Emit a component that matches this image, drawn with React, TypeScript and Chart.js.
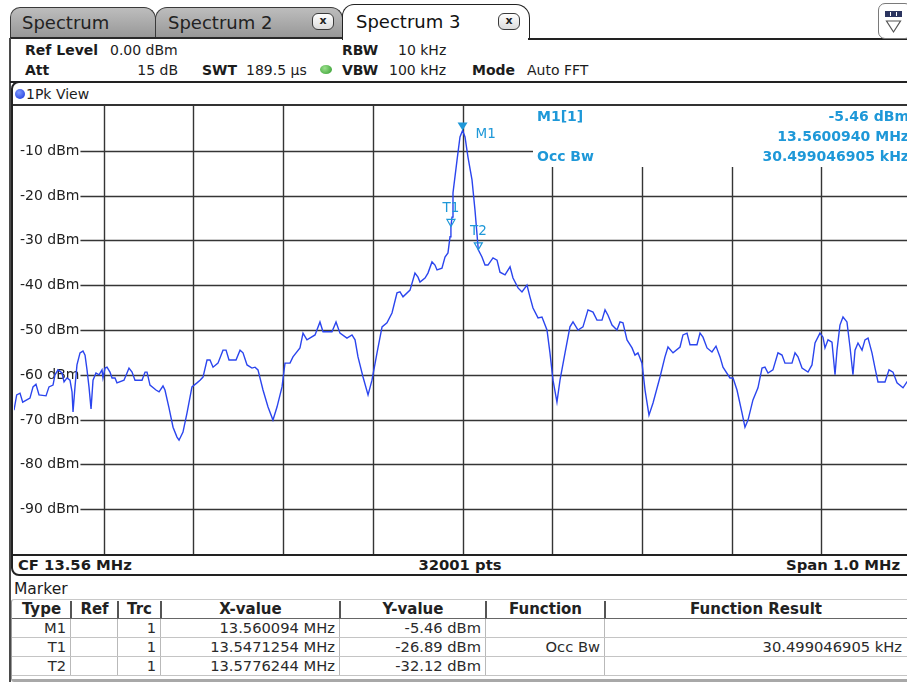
import React, { useEffect, useRef } from "react";
import { Chart, registerables } from "chart.js";

Chart.register(...registerables);

// ---- Trace data (offset from centre frequency in kHz, level in dBm) ----
const OFFSET_KHZ = [
  -500.0, -497.0, -493.3, -490.3, -482.2, -478.8, -475.5, -472.1, -464.3, -461.0,
  -456.5, -454.3, -450.9, -446.5, -444.2, -440.9, -437.6, -435.3, -434.2, -432.0,
  -429.8, -426.4, -423.1, -420.8, -418.6, -416.4, -414.1, -411.9, -408.6, -405.2,
  -401.9, -400.8, -398.5, -396.3, -393.0, -390.7, -387.4, -385.2, -377.4, -374.0,
  -371.8, -368.4, -365.1, -357.3, -353.9, -351.7, -348.4, -341.7, -338.3, -333.9,
  -331.7, -327.2, -322.7, -318.3, -316.0, -311.6, -307.1, -301.6, -296.0, -292.6,
  -289.3, -284.8, -281.5, -278.1, -272.6, -267.0, -263.6, -260.3, -252.5, -248.0,
  -244.7, -240.2, -234.7, -231.3, -228.0, -222.4, -216.8, -211.3, -206.8, -201.2,
  -197.9, -192.3, -189.0, -181.2, -177.8, -173.4, -164.4, -158.9, -155.5, -145.5,
  -141.0, -136.6, -128.8, -123.2, -119.8, -116.5, -110.9, -105.3, -100.9, -95.3,
  -89.7, -84.2, -78.6, -73.0, -69.7, -66.3, -58.5, -53.0, -49.6, -47.4,
  -41.8, -38.5, -34.0, -30.7, -28.4, -22.9, -19.5, -16.2, -13.9, -12.9,
  -11.7, -10.6, -6.1, -2.8, 0.1, 2.8, 6.1, 10.6, 13.9, 17.6,
  21.7, 25.1, 28.4, 34.0, 38.5, 41.8, 47.4, 53.0, 56.3, 61.9,
  66.3, 71.9, 75.2, 78.6, 84.2, 88.6, 94.2, 97.5, 100.9, 105.3,
  108.7, 114.3, 119.8, 123.2, 128.8, 134.3, 139.9, 145.5, 149.9, 155.5,
  158.9, 162.2, 166.7, 172.2, 175.6, 178.9, 183.4, 189.0, 192.3, 195.6,
  200.1, 203.5, 207.9, 212.4, 220.2, 225.7, 229.1, 234.7, 242.5, 245.8,
  250.3, 253.6, 261.4, 264.8, 268.1, 272.6, 278.1, 282.6, 287.1, 290.4,
  298.2, 301.6, 306.0, 311.6, 314.9, 318.3, 323.8, 329.4, 333.9, 337.2,
  340.6, 346.1, 351.7, 356.2, 359.5, 367.3, 370.7, 374.0, 378.5, 385.2,
  389.6, 393.0, 398.5, 401.9, 404.1, 407.5, 411.9, 415.3, 417.5, 420.8,
  424.2, 428.6, 432.0, 435.3, 437.6, 440.9, 445.4, 448.7, 452.1, 456.5,
  459.9, 463.2, 471.0, 475.5, 479.9, 484.4, 491.1, 495.5, 500.0,
];
const LEVEL_DBM = [
  -67.9, -64.5, -64.1, -66.1, -65.2, -62.7, -62.1, -64.5, -64.7, -62.7,
  -62.3, -60.0, -58.9, -59.6, -61.6, -60.7, -61.2, -63.8, -68.3, -62.7,
  -57.8, -55.1, -54.7, -55.6, -58.9, -62.7, -67.6, -61.2, -59.6, -60.0,
  -58.9, -60.7, -58.5, -58.3, -59.4, -60.7, -60.7, -61.8, -61.2, -59.6,
  -58.5, -59.4, -61.2, -61.2, -59.4, -59.4, -62.3, -63.4, -63.8, -62.5,
  -63.4, -67.4, -71.7, -73.9, -74.6, -72.8, -68.5, -62.7, -61.8, -61.2,
  -60.5, -56.7, -56.7, -58.3, -57.4, -54.5, -54.5, -56.7, -56.7, -54.5,
  -55.1, -57.8, -58.5, -58.3, -58.9, -63.4, -67.2, -70.1, -67.2, -62.7,
  -57.4, -57.4, -56.0, -54.0, -50.7, -52.2, -51.1, -48.2, -50.4, -50.4,
  -48.2, -50.7, -51.8, -51.1, -52.2, -56.0, -60.5, -64.5, -61.2, -55.1,
  -49.3, -48.4, -46.2, -41.7, -41.5, -42.6, -41.1, -37.3, -38.2, -39.3,
  -38.4, -37.3, -34.8, -35.5, -36.6, -36.2, -33.7, -32.8, -29.2, -26.9,
  -24.8, -19.4, -12.1, -6.9, -5.46, -6.9, -11.4, -16.5, -23.2, -32.1,
  -33.7, -35.5, -35.5, -33.9, -34.4, -37.1, -37.7, -35.9, -38.4, -40.6,
  -41.5, -40.0, -42.6, -45.1, -47.3, -47.1, -50.0, -55.1, -61.2, -66.1,
  -61.2, -55.1, -49.3, -48.2, -50.0, -49.3, -45.5, -46.0, -47.8, -47.8,
  -45.5, -46.7, -48.9, -50.0, -48.2, -48.4, -52.2, -54.0, -55.6, -55.1,
  -57.4, -63.4, -69.0, -66.3, -60.5, -56.0, -53.8, -55.1, -53.8, -51.1,
  -50.7, -53.3, -53.3, -50.7, -51.6, -54.0, -54.9, -53.6, -56.0, -58.3,
  -60.7, -60.7, -63.4, -68.5, -71.7, -70.1, -65.6, -62.9, -58.5, -58.3,
  -59.6, -58.9, -55.1, -55.6, -57.4, -57.4, -55.1, -56.0, -58.5, -59.4,
  -57.8, -52.9, -50.7, -51.6, -54.0, -52.2, -52.7, -60.0, -54.5, -48.9,
  -47.1, -48.2, -53.8, -60.0, -54.5, -52.9, -54.5, -52.2, -51.8, -55.1,
  -58.5, -61.6, -61.6, -58.9, -59.4, -61.8, -62.9, -61.6, -60.7,
];

// ---- Axes ----
const Y_TICKS = [-10, -20, -30, -40, -50, -60, -70, -80, -90];
const X_GRID_KHZ = [-400, -300, -200, -100, 0, 100, 200, 300, 400];
const SPAN_KHZ = [-500, 500];
const LEVEL_RANGE = [-100, 0];

// ---- Markers ----
const MARKER_TYPES = ["M1", "T1", "T2"];
const MARKER_REF = ["", "", ""];
const MARKER_TRC = [1, 1, 1];
const MARKER_X_TEXT = ["13.560094 MHz", "13.5471254 MHz", "13.5776244 MHz"];
const MARKER_LEVEL = [-5.46, -26.89, -32.12];
const MARKER_FUNC = ["", "Occ Bw", ""];
const MARKER_FUNC_RESULT = ["", "30.499046905 kHz", ""];
const CF_MHZ = 13.56;
const M1_FREQ_MHZ = 13.560094;
const OCC_BW_TEXT = "30.499046905 kHz";

const TRACE_COLOR = "#2b45ee";
const MARKER_BLUE = "#1e98d8";
const GRID_COLOR = "#353535";
const FONT = "'DejaVu Sans', Verdana, sans-serif";

const PLOT_W = 897;
const PLOT_H = 448;

function markerOffsetKHz(i: number) {
  return (parseFloat(MARKER_X_TEXT[i]) - CF_MHZ) * 1000;
}

const gridPlugin = {
  id: "rsGrid",
  beforeDatasetsDraw(chart: any) {
    const { ctx, chartArea: a, scales } = chart;
    const xs = scales.x;
    const ys = scales.y;
    const infoLeft = a.left + 519;
    const infoBottom = a.top + 61;
    ctx.save();
    ctx.strokeStyle = GRID_COLOR;
    ctx.lineWidth = 1.4;
    X_GRID_KHZ.forEach((v) => {
      const px = Math.round(xs.getPixelForValue(v)) + 0.5;
      const top = px > infoLeft ? infoBottom : a.top;
      ctx.beginPath();
      ctx.moveTo(px, top);
      ctx.lineTo(px, a.bottom);
      ctx.stroke();
    });
    ctx.font = `14px ${FONT}`;
    ctx.fillStyle = "#222";
    ctx.textBaseline = "middle";
    ctx.textAlign = "left";
    Y_TICKS.forEach((v) => {
      const py = Math.round(ys.getPixelForValue(v)) + 0.5;
      const label = `${v} dBm`;
      const w = ctx.measureText(label).width;
      ctx.fillText(label, a.left + 6, py);
      const right = py < infoBottom ? infoLeft : a.right;
      ctx.beginPath();
      ctx.moveTo(a.left + 6 + w + 1, py);
      ctx.lineTo(right, py);
      ctx.stroke();
    });
    ctx.restore();
  },
};

const markerPlugin = {
  id: "rsMarkers",
  afterDatasetsDraw(chart: any) {
    const { ctx, chartArea: a, scales } = chart;
    const xs = scales.x;
    const ys = scales.y;
    ctx.save();
    ctx.fillStyle = MARKER_BLUE;
    ctx.strokeStyle = MARKER_BLUE;
    ctx.lineWidth = 1.2;
    MARKER_TYPES.forEach((name, i) => {
      const px = xs.getPixelForValue(markerOffsetKHz(i));
      const py = ys.getPixelForValue(MARKER_LEVEL[i]);
      ctx.beginPath();
      if (i === 0) {
        ctx.moveTo(px - 5, py - 8);
        ctx.lineTo(px + 5, py - 8);
        ctx.lineTo(px, py);
        ctx.closePath();
        ctx.fill();
        ctx.font = `13.5px ${FONT}`;
        ctx.textAlign = "left";
        ctx.textBaseline = "middle";
        ctx.fillText(name, px + 13, py + 4);
      } else {
        ctx.moveTo(px - 4, py - 7);
        ctx.lineTo(px + 4, py - 7);
        ctx.lineTo(px, py);
        ctx.closePath();
        ctx.stroke();
        ctx.font = `13.5px ${FONT}`;
        ctx.textAlign = "center";
        ctx.textBaseline = "middle";
        ctx.fillText(name, px, py - 18);
      }
    });
    // marker info box
    ctx.font = `bold 14px ${FONT}`;
    ctx.textBaseline = "middle";
    const lx = a.left + 523;
    const rx = a.right - 2;
    ctx.textAlign = "left";
    ctx.fillText(`${MARKER_TYPES[0]}[${MARKER_TRC[0]}]`, lx, a.top + 11);
    ctx.fillText("Occ Bw", lx, a.top + 51);
    ctx.textAlign = "right";
    ctx.fillText(`${MARKER_LEVEL[0].toFixed(2)} dBm`, rx, a.top + 11);
    ctx.fillText(`${M1_FREQ_MHZ.toFixed(7)} MHz`, rx, a.top + 31);
    ctx.fillText(OCC_BW_TEXT, rx, a.top + 51);
    ctx.restore();
  },
};

const abs = (l: number, t: number, extra: React.CSSProperties = {}): React.CSSProperties => ({
  position: "absolute",
  left: l,
  top: t,
  whiteSpace: "nowrap",
  ...extra,
});

function Txt(props: {
  x: number;
  y: number;
  text: string;
  bold?: boolean;
  size?: number;
  align?: "left" | "right" | "center";
  color?: string;
}) {
  const { x, y, text, bold, size = 14, align = "left", color = "#1c1c1c" } = props;
  const style: React.CSSProperties = {
    position: "absolute",
    top: y - 10,
    height: 20,
    lineHeight: "20px",
    fontSize: size,
    fontWeight: bold ? "bold" : "normal",
    color,
    whiteSpace: "nowrap",
  };
  if (align === "left") style.left = x;
  else if (align === "right") style.right = 907 - x;
  else {
    style.left = x - 200;
    style.width = 400;
    style.textAlign = "center";
  }
  return <div style={style}>{text}</div>;
}

function CloseBtn({ x }: { x: number }) {
  return (
    <div
      style={abs(x, 13, {
        width: 20,
        height: 15,
        border: "1.5px solid #3a3a3a",
        borderRadius: 6,
        background: "linear-gradient(#ffffff,#dcdcdc)",
        fontSize: 11,
        fontWeight: "bold",
        lineHeight: "14px",
        textAlign: "center",
        color: "#222",
      })}
    >
      x
    </div>
  );
}

const COLS = [12, 71, 118, 161, 340, 486, 605, 907];
const HEADERS = ["Type", "Ref", "Trc", "X-value", "Y-value", "Function", "Function Result"];

function MarkerTable() {
  const rowsTop = [618, 637, 656];
  const cells: React.ReactNode[] = [];
  HEADERS.forEach((h, c) => {
    cells.push(
      <div
        key={"h" + c}
        style={abs(COLS[c], 600, {
          width: COLS[c + 1] - COLS[c],
          height: 18,
          lineHeight: "18px",
          textAlign: "center",
          fontWeight: "bold",
          fontSize: 15,
          color: "#222",
        })}
      >
        {h}
      </div>
    );
    if (c > 0) {
      cells.push(<div key={"hs" + c} style={abs(COLS[c] - 1, 601, { width: 1.5, height: 17, background: "#555" })} />);
      cells.push(<div key={"bs" + c} style={abs(COLS[c] - 1, 619, { width: 1, height: 57, background: "#b9b9b9" })} />);
    }
  });
  MARKER_TYPES.forEach((t, r) => {
    const vals = [
      t,
      MARKER_REF[r],
      String(MARKER_TRC[r]),
      MARKER_X_TEXT[r],
      `${MARKER_LEVEL[r].toFixed(2)} dBm`,
      MARKER_FUNC[r],
      MARKER_FUNC_RESULT[r],
    ];
    vals.forEach((v, c) => {
      cells.push(
        <div
          key={`c${r}-${c}`}
          style={abs(COLS[c], rowsTop[r], {
            width: COLS[c + 1] - COLS[c] - 5,
            height: 19,
            lineHeight: "19px",
            textAlign: "right",
            fontSize: 14.7,
            color: "#2a2a2a",
          })}
        >
          {v}
        </div>
      );
    });
    cells.push(<div key={"rl" + r} style={abs(12, rowsTop[r] + 19, { width: 895, height: 1, background: "#c4c4c4" })} />);
  });
  return (
    <>
      <div
        style={abs(11, 599, {
          width: 900,
          height: 79,
          borderLeft: "1.5px solid #9a9a9a",
          borderTop: "1.5px solid #c8c8c8",
          borderBottom: "3px solid #a8a8a8",
          borderRadius: "3px 0 0 3px",
        })}
      />
      <div style={abs(12, 617.5, { width: 895, height: 1.5, background: "#666" })} />
      {cells}
    </>
  );
}

export default function App() {
  const canvasRef = useRef<HTMLCanvasElement | null>(null);

  useEffect(() => {
    const canvas = canvasRef.current;
    if (!canvas) return;
    const chart = new Chart(canvas, {
      type: "line",
      data: {
        datasets: [
          {
            data: OFFSET_KHZ.map((x, i) => ({ x, y: LEVEL_DBM[i] })),
            borderColor: TRACE_COLOR,
            borderWidth: 1.4,
            pointRadius: 0,
            tension: 0,
            fill: false,
          },
        ],
      },
      options: {
        responsive: false,
        maintainAspectRatio: false,
        animation: false,
        devicePixelRatio: 1,
        events: [],
        layout: { padding: 0 },
        scales: {
          x: { type: "linear", min: SPAN_KHZ[0], max: SPAN_KHZ[1], display: false },
          y: { type: "linear", min: LEVEL_RANGE[0], max: LEVEL_RANGE[1], display: false },
        },
        plugins: { legend: { display: false }, tooltip: { enabled: false } },
      },
      plugins: [gridPlugin, markerPlugin],
    } as any);
    return () => chart.destroy();
  }, []);

  return (
    <div
      style={{
        position: "fixed",
        left: 0,
        top: 0,
        width: 907,
        height: 682,
        overflow: "hidden",
        background: "#fff",
        fontFamily: FONT,
        color: "#1c1c1c",
      }}
    >
      {/* tabs */}
      <div
        style={abs(10, 7, {
          width: 146,
          height: 31,
          boxSizing: "border-box",
          border: "1.5px solid #3a3a3a",
          borderBottom: "none",
          borderRadius: "10px 12px 0 0",
          background: "linear-gradient(#bdbdbd, #979797)",
        })}
      />
      <div
        style={abs(155, 7, {
          width: 188,
          height: 31,
          boxSizing: "border-box",
          border: "1.5px solid #3a3a3a",
          borderBottom: "none",
          borderRadius: "12px 12px 0 0",
          background: "linear-gradient(#bdbdbd, #979797)",
        })}
      />
      <div style={abs(10, 37, { width: 334, height: 2, background: "#2a2a2a" })} />
      <Txt x={22} y={23} text="Spectrum" size={18} color="#222" />
      <Txt x={168} y={23} text="Spectrum 2" size={18} color="#222" />
      <CloseBtn x={312} />
      <div
        style={abs(342, 4, {
          width: 188,
          height: 36,
          boxSizing: "border-box",
          border: "1.5px solid #222",
          borderBottom: "none",
          borderRadius: "12px 14px 0 0",
          background: "#fff",
        })}
      />
      <Txt x={356} y={22} text="Spectrum 3" size={18} color="#111" />
      <CloseBtn x={498} />
      <div style={abs(528, 38, { width: 380, height: 2, background: "#222" })} />
      {/* top-right icon */}
      <div
        style={abs(878, 3, {
          width: 34,
          height: 36,
          boxSizing: "border-box",
          border: "1.5px solid #7a7a7a",
          borderRadius: 7,
          background: "#fff",
        })}
      >
        <svg width="30" height="32" style={{ position: "absolute", left: 0, top: 0 }}>
          <rect x="6" y="7" width="17" height="6" fill="#2c3560" />
          <rect x="11" y="8" width="1" height="4" fill="#fff" />
          <rect x="17" y="8" width="1" height="4" fill="#fff" />
          <path d="M7.5 17 L21.5 17 L14.5 28 Z" fill="none" stroke="#555" strokeWidth="1.2" />
        </svg>
      </div>
      {/* outer left frame */}
      <div style={abs(9, 38, { width: 1.5, height: 644, background: "#4a4a4a" })} />

      {/* header settings */}
      <Txt x={25} y={50} text="Ref Level" bold />
      <Txt x={110} y={50} text="0.00 dBm" />
      <Txt x={25} y={70} text="Att" bold />
      <Txt x={178} y={70} text="15 dB" align="right" />
      <Txt x={202} y={70} text="SWT" bold />
      <Txt x={246} y={70} text="189.5 µs" />
      <div
        style={abs(320, 65, {
          width: 12,
          height: 9,
          borderRadius: "50%",
          background: "radial-gradient(circle at 40% 35%, #9be08c, #2f9a2c)",
        })}
      />
      <Txt x={342} y={50} text="RBW" bold />
      <Txt x={398} y={50} text="10 kHz" />
      <Txt x={342} y={70} text="VBW" bold />
      <Txt x={389} y={70} text="100 kHz" />
      <Txt x={472} y={70} text="Mode" bold />
      <Txt x={527} y={70} text="Auto FFT" />
      <div style={abs(10, 80.5, { width: 897, height: 2, background: "#222" })} />

      {/* view panel */}
      <div
        style={abs(11, 81, {
          width: 910,
          height: 495,
          boxSizing: "border-box",
          border: "2px solid #222",
          borderRadius: "8px 0 0 8px",
        })}
      />
      <div
        style={abs(15, 89, {
          width: 10,
          height: 10,
          borderRadius: "50%",
          background: "radial-gradient(circle at 40% 35%, #7f9bff, #1530d8)",
        })}
      />
      <Txt x={26} y={94} text="1Pk View" />
      <div style={abs(13, 104, { width: 900, height: 1.5, background: "#333" })} />
      <canvas
        ref={canvasRef}
        width={PLOT_W}
        height={PLOT_H}
        style={{ position: "absolute", left: 14, top: 106, width: PLOT_W, height: PLOT_H }}
      />
      <div style={abs(13, 554, { width: 900, height: 2, background: "#222" })} />
      <Txt x={18} y={565} text={`CF ${CF_MHZ.toFixed(2)} MHz`} bold size={14.8} />
      <Txt x={460} y={565} text="32001 pts" bold align="center" size={14.8} />
      <Txt x={900} y={565} text="Span 1.0 MHz" bold align="right" size={14.8} />

      {/* marker table */}
      <Txt x={14} y={589} text="Marker" size={15.5} />
      <MarkerTable />
    </div>
  );
}
